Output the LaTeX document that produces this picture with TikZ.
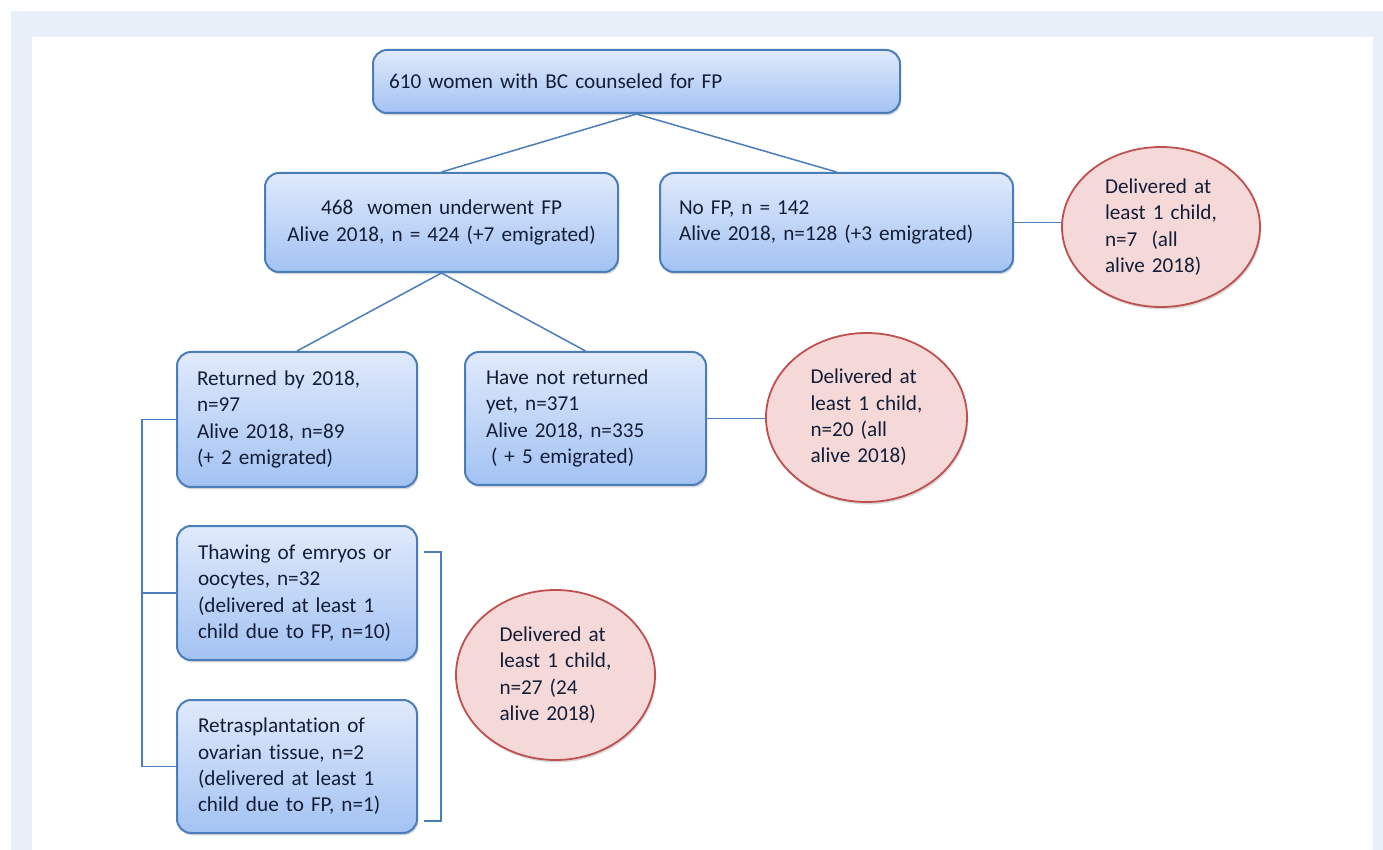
\documentclass[tikz,border=0pt]{standalone}
\usepackage{fontspec}
\setmainfont{Carlito}[Ligatures=NoCommon]
\usepackage{tikz}
\usetikzlibrary{shapes.geometric,shadows}

\definecolor{band}{RGB}{232,239,249}
\definecolor{boxtop}{RGB}{224,234,251}
\definecolor{boxbot}{RGB}{163,194,243}
\definecolor{boxline}{RGB}{74,126,187}
\definecolor{pinkfill}{RGB}{245,217,217}
\definecolor{redline}{RGB}{192,80,77}
\definecolor{ink}{RGB}{20,30,55}

\tikzset{
  fpbox/.style={draw=boxline, line width=1pt, rounded corners=7pt,
    top color=boxtop, bottom color=boxbot, text=ink, align=left,
    font=\fontsize{10.6}{13.2}\selectfont, inner ysep=0pt,
    drop shadow={shadow xshift=0.6pt, shadow yshift=-1.2pt, opacity=0.3}},
  birth/.style={ellipse, draw=redline, line width=0.9pt, fill=pinkfill,
    text=ink, align=left, text width=56pt, inner sep=0pt,
    font=\fontsize{10.6}{13.2}\selectfont,
    drop shadow={shadow xshift=0.6pt, shadow yshift=-1.2pt, opacity=0.3}},
  link/.style={draw=boxline, line width=0.75pt}
}

\begin{document}
\begin{tikzpicture}[x=0.5pt,y=-0.5pt]
  \useasboundingbox (0,0) rectangle (1383,850);
  \fill[white] (0,0) rectangle (1383,850);
  \fill[band] (11,11) rectangle (1383,850);
  \fill[white] (32,37) rectangle (1373,850);

  \node[fpbox, text width=247.5pt, inner xsep=8pt, minimum width=263.5pt,
    minimum height=31.5pt] (all) at (636.5,81.5) {610 women with BC counseled for FP};
  \node[fpbox, align=center, text width=156.5pt, inner xsep=10pt, minimum width=176.5pt,
    minimum height=49.5pt] (fp) at (441.5,222.5)
    {468\ \ women underwent FP\\ Alive 2018, n = 424 (+7 emigrated)};
  \node[fpbox, text width=157.5pt, inner xsep=9.5pt, minimum width=176.5pt,
    minimum height=49.5pt] (nofp) at (836.5,222.5)
    {No FP, n = 142\\ Alive 2018, n=128 (+3 emigrated)};

  \node[fpbox, text width=100pt, inner xsep=10pt, minimum width=120pt,
    minimum height=67.5pt] (ret) at (297,419.5)
    {Returned by 2018,\\ n=97\\ Alive 2018, n=89\\ (+ 2 emigrated)};
  \node[fpbox, text width=99.5pt, inner xsep=10.5pt, minimum width=120.5pt,
    minimum height=66.5pt] (notret) at (585.5,418.5)
    {Have not returned\\ yet, n=371\\ Alive 2018, n=335\\ \hspace*{2.5pt}( + 5 emigrated)};
  \node[fpbox, text width=99pt, inner xsep=10.5pt, minimum width=120pt,
    minimum height=67pt] (thaw) at (297,593)
    {Thawing of emryos or\\ oocytes, n=32\\ (delivered at least 1\\ child due to FP, n=10)};
  \node[fpbox, text width=99pt, inner xsep=10.5pt, minimum width=120pt,
    minimum height=66.5pt] (retra) at (297,766.5)
    {Retrasplantation of\\ ovarian tissue, n=2\\ (delivered at least 1\\ child due to FP, n=1)};

  \node[birth, minimum width=99pt, minimum height=80pt] (kid1) at (1161,227)
    {Delivered at\\ least 1 child,\\ n=7\ \ (all\\ alive 2018)};
  \node[birth, minimum width=100.5pt, minimum height=84.5pt] (kid2) at (866.5,417.5)
    {Delivered at\\ least 1 child,\\ n=20 (all\\ alive 2018)};
  \node[birth, minimum width=99.5pt, minimum height=85pt] (kid3) at (555.5,675)
    {Delivered at\\ least 1 child,\\ n=27 (24\\ alive 2018)};

  \draw[link] (all.south) -- (fp.north);
  \draw[link] (all.south) -- (nofp.north);
  \draw[link] (fp.south) -- (ret.north);
  \draw[link] (fp.south) -- (notret.north);
  \draw[link] (nofp.east) -- (nofp.east -| kid1.west);
  \draw[link] (notret.east) -- (notret.east -| kid2.west);
  % brackets
  \draw[link] (ret.west) -- ++(-34,0) |- (retra.west);
  \draw[link] (thaw.west) -- ++(-34,0);
  \draw[link] ([shift={(6,27)}]thaw.north east) -- ++(17,0)
    |- ([shift={(6,-13)}]retra.south east);
\end{tikzpicture}
\end{document}
